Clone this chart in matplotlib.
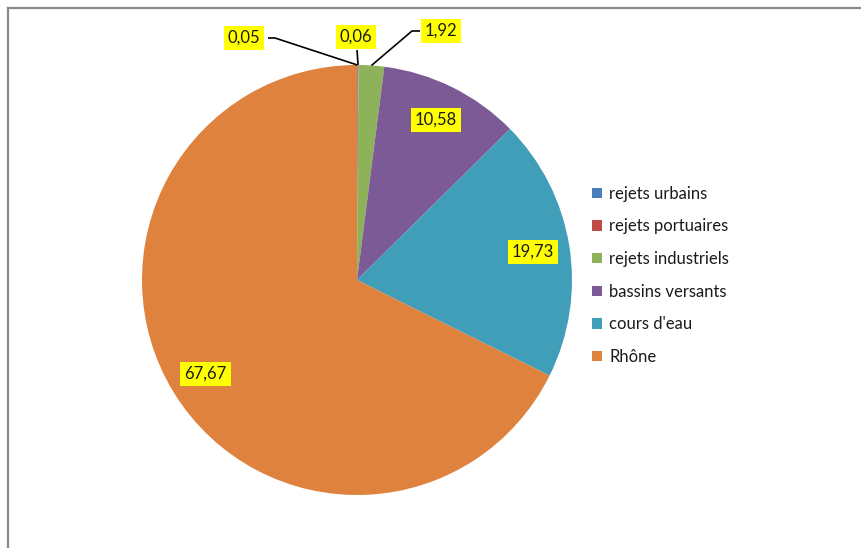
import matplotlib.pyplot as plt
import numpy as np
from matplotlib.lines import Line2D
from matplotlib.patches import Patch

plt.rcParams["font.family"] = ["Lato", "DejaVu Sans"]

categories = ["rejets urbains", "rejets portuaires", "rejets industriels",
              "bassins versants", "cours d'eau", "Rhône"]
values = [0.05, 0.06, 1.92, 10.58, 19.73, 67.67]
value_labels = ["0,05", "0,06", "1,92", "10,58", "19,73", "67,67"]
colors = ["#4a7ebb", "#be4b48", "#8eb25a", "#7b5a96", "#409eb9", "#de823e"]

W, H = 862, 548
CX, CY, R = 357, H - 280, 215

fig = plt.figure(figsize=(W / 100, H / 100), dpi=100)
ax = fig.add_axes([0, 0, 1, 1])

wedges, _ = ax.pie(values, colors=colors, startangle=90, counterclock=False,
                   center=(CX, CY), radius=R, frame=True,
                   wedgeprops=dict(linewidth=0))
ax.set_xlim(0, W)
ax.set_ylim(0, H)
ax.axis("off")

box = dict(boxstyle="square,pad=0.25", fc="#ffff00", ec="none")
font = dict(fontsize=12, color="#1a1a1a", ha="center", va="center")


def mid_angle(w):
    return np.deg2rad((w.theta1 + w.theta2) / 2)


# big slices: labels inside the wedge
for w, lab in zip(wedges[3:], value_labels[3:]):
    a = mid_angle(w)
    ax.text(CX + 0.83 * R * np.cos(a), CY + 0.83 * R * np.sin(a), lab,
            bbox=box, **font)

# tiny slices: labels above, with leader lines to the rim
outside = [
    # text position, elbow, line end at label
    ((244, H - 38), (275, H - 38), (268, H - 38)),
    ((356, H - 37), (357, H - 50), (357, H - 50)),
    ((441, H - 31), (412, H - 31), (420, H - 31)),
]
for w, lab, (tp, elbow, tend) in zip(wedges[:3], value_labels[:3], outside):
    a = mid_angle(w)
    rim = (CX + R * np.cos(a), CY + R * np.sin(a))
    ax.plot([rim[0], elbow[0], tend[0]], [rim[1], elbow[1], tend[1]],
            color="black", lw=1.2, solid_capstyle="butt", zorder=3)
    ax.text(tp[0], tp[1], lab, bbox=box, zorder=4, **font)

handles = [Patch(facecolor=c, edgecolor="none", label=n)
           for c, n in zip(colors, categories)]
ax.legend(handles=handles, loc="upper left", bbox_to_anchor=(585 / W, 1 - 179 / H),
          frameon=False, fontsize=12, handlelength=0.6, handleheight=0.6,
          handletextpad=0.45, labelspacing=1.0, labelcolor="#1a1a1a",
          borderaxespad=0)

# chart area border (left and top)
fig.add_artist(Line2D([8 / W, 8 / W], [0, 1 - 8 / H], color="#8a8a8a",
                      lw=1.6, transform=fig.transFigure))
fig.add_artist(Line2D([8 / W, 1], [1 - 8 / H, 1 - 8 / H], color="#8a8a8a",
                      lw=1.6, transform=fig.transFigure))

fig.savefig("out.png", dpi=100)
